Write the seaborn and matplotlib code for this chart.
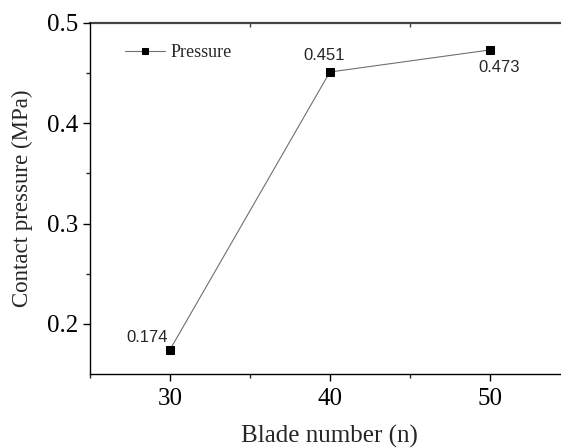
import numpy as np
import pandas as pd
import matplotlib.pyplot as plt
import seaborn as sns
from matplotlib.ticker import FixedLocator

blade_number = [30, 40, 50]
pressure = [0.174, 0.451, 0.473]
point_labels = ["0.174", "0.451", "0.473"]
label_offsets = [(-16, 9), (-4, 12), (6.5, -13)]

sns.set_style("ticks")
plt.rcParams['font.family'] = ['Liberation Serif', 'DejaVu Serif']

data = pd.DataFrame({'Blade number': blade_number, 'Pressure': pressure})

fig = plt.figure(figsize=(5.61, 4.48), dpi=100)
ax = fig.add_axes([0.16, 0.165, 0.856, 0.784])

sns.lineplot(data=data, x='Blade number', y='Pressure', ax=ax,
             color='#707070', linewidth=0.8, marker='s', markersize=6,
             markerfacecolor='black', markeredgecolor='black',
             label='Pressure')

# value labels next to each point
for x, y, txt, off in zip(blade_number, pressure, point_labels, label_offsets):
    ax.annotate(txt, (x, y), xytext=off, textcoords='offset points',
                ha='center', va='center', fontsize=12,
                family=['Liberation Sans', 'DejaVu Sans'])

ax.set_xlim(25, 55)
ax.set_ylim(0.15, 0.5)
ax.set_xticks([30, 40, 50])
ax.set_yticks([0.2, 0.3, 0.4, 0.5])
ax.set_yticklabels(['0.2', '0.3', '0.4', '0.5'])
ax.xaxis.set_minor_locator(FixedLocator([25, 35, 45]))
ax.yaxis.set_minor_locator(FixedLocator([0.25, 0.35, 0.45]))
ax.tick_params(which='major', direction='out', length=5, width=1, labelsize=18, colors='black')
ax.tick_params(which='minor', direction='out', length=3, width=1)
ax.tick_params(axis='x', which='major', pad=5)

for side in ['left', 'bottom']:
    ax.spines[side].set_linewidth(1.0)
    ax.spines[side].set_color('black')
ax.spines['top'].set_visible(False)
ax.spines['right'].set_visible(False)

# top frame line with small inward minor ticks
top = ax.secondary_xaxis('top')
top.set_xticks([])
top.xaxis.set_minor_locator(FixedLocator([35, 45]))
top.tick_params(which='minor', direction='in', length=3, width=1, colors='#444444')
top.spines['top'].set_linewidth(1.6)
top.spines['top'].set_color('#444444')

ax.set_xlabel('Blade number (n)', fontsize=18, labelpad=11)
ax.set_ylabel('Contact pressure (MPa)', fontsize=16.5)
ax.yaxis.set_label_coords(-0.118, 0.5)

leg = ax.legend(loc='upper left', bbox_to_anchor=(0.04, 0.985), frameon=False,
                fontsize=13, handlelength=2.2, handletextpad=0.3, markerscale=0.75)

fig.savefig('out.png', dpi=100)
plt.close(fig)
